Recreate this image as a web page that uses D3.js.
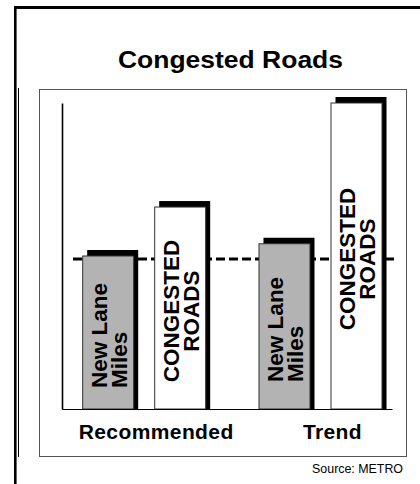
<!DOCTYPE html>
<html><head><meta charset="utf-8">
<script src="https://cdn.jsdelivr.net/npm/d3@7/dist/d3.min.js"></script>
<style>html,body{margin:0;padding:0;background:#fff;} svg{display:block;}</style>
</head><body>
<script>
// ---- data ----
const title = "Congested Roads";
const sourceNote = "Source: METRO";
const categories = ["Recommended", "Trend"];
const seriesNames = ["New Lane Miles", "Congested Roads"];
const newLaneMiles = [50, 54];
const congestedRoads = [66, 100];
const seriesLabels = [["New Lane", "Miles"], ["CONGESTED", "ROADS"]];
const referenceLevel = 49;

// ---- layout ----
const W = 420, H = 484;
const plot = {left: 62, right: 392, top: 103, bottom: 409};
const FONT = "'Liberation Sans', Arial, Helvetica, sans-serif";
const seriesFill = ["#b3b3b3", "#ffffff"];
const seriesAnchor = ["start", "middle"];

const svg = d3.select("body").append("svg").attr("width", W).attr("height", H);

// frame
svg.append("line").attr("x1", 14).attr("x2", W).attr("y1", 7.5).attr("y2", 7.5)
  .attr("stroke", "#000").attr("stroke-width", 3);
svg.append("line").attr("x1", 15.3).attr("x2", 15.3).attr("y1", 6).attr("y2", H)
  .attr("stroke", "#000").attr("stroke-width", 2.6);
svg.append("line").attr("x1", 18.5).attr("x2", 18.5).attr("y1", 88).attr("y2", 457)
  .attr("stroke", "#000").attr("stroke-width", 1);
svg.append("rect").attr("x", 39.5).attr("y", 89.5).attr("width", 367).attr("height", 367)
  .attr("fill", "none").attr("stroke", "#555").attr("stroke-width", 1);

// title
svg.append("text").attr("x", 230.5).attr("y", 68).attr("text-anchor", "middle")
  .attr("font-family", FONT).attr("font-weight", "bold").attr("font-size", 23)
  .attr("textLength", 225).attr("lengthAdjust", "spacingAndGlyphs")
  .text(title);

// scales
const x0 = d3.scaleBand().domain(categories).range([plot.left, plot.right])
  .paddingInner(0.3023).paddingOuter(0.087).align(0.674);
const x1 = d3.scaleBand().domain(seriesNames).range([0, x0.bandwidth()]).paddingInner(0.2917);
const y = d3.scaleLinear().domain([0, 100]).range([plot.bottom, plot.top]);

// axes
const yAxis = svg.append("g").attr("transform", `translate(${plot.left},0)`)
  .call(d3.axisLeft(y).tickValues([]).tickSizeOuter(0));
yAxis.select(".domain").attr("stroke", "#000").attr("stroke-width", 1.6);

// reference dashed line (behind bars)
svg.append("line").attr("x1", plot.left + 11).attr("x2", plot.right + 2)
  .attr("y1", y(referenceLevel)).attr("y2", y(referenceLevel))
  .attr("stroke", "#000").attr("stroke-width", 3).attr("stroke-dasharray", "9,4");

// bars
const rows = [];
categories.forEach((c, i) => {
  rows.push({cat: c, s: 0, v: newLaneMiles[i]});
  rows.push({cat: c, s: 1, v: congestedRoads[i]});
});
const bw = x1.bandwidth();
const bx = d => x0(d.cat) + x1(seriesNames[d.s]);

const bars = svg.append("g").selectAll("g").data(rows).join("g");
bars.append("rect").attr("x", d => bx(d) + 4.5).attr("y", d => y(d.v) - 6)
  .attr("width", bw).attr("height", d => y(0) - y(d.v) + 6).attr("fill", "#000");
bars.append("rect").attr("x", d => bx(d)).attr("y", d => y(d.v))
  .attr("width", bw).attr("height", d => y(0) - y(d.v))
  .attr("fill", d => seriesFill[d.s]).attr("stroke", "#333").attr("stroke-width", 1);

// bar labels (rotated)
bars.each(function(d) {
  const g = d3.select(this);
  const cx = bx(d) + bw / 2;
  const cy = (y(d.v) + y(0)) / 2 + 3;
  const lines = seriesLabels[d.s];
  const offs = [-1, 19];
  const texts = lines.map((t, i) => g.append("text")
    .attr("font-family", FONT).attr("font-weight", "bold").attr("font-size", 22.5)
    .attr("text-anchor", seriesAnchor[d.s]).text(t));
  const maxLen = d3.max(texts, t => t.node().getComputedTextLength());
  texts.forEach((t, i) => {
    const ty = seriesAnchor[d.s] === "start" ? cy + maxLen / 2 : cy;
    t.attr("transform", `translate(${cx + offs[i]},${ty}) rotate(-90)`);
  });
});

// baseline
const xAxis = svg.append("g").attr("transform", `translate(0,${plot.bottom})`)
  .call(d3.axisBottom(x0).tickSize(0).tickSizeOuter(0).tickFormat(""));
xAxis.select(".domain").attr("stroke", "#000").attr("stroke-width", 1.2);

// category labels
svg.append("g").selectAll("text").data(categories).join("text")
  .attr("x", d => x0(d) + x0.bandwidth() / 2 + 12).attr("y", 439)
  .attr("text-anchor", "middle").attr("font-family", FONT).attr("font-weight", "bold")
  .attr("font-size", 21).attr("letter-spacing", 0.4).text(d => d);

// source
svg.append("text").attr("x", 403).attr("y", 472.5).attr("text-anchor", "end")
  .attr("font-family", FONT).attr("font-size", 12.4).text(sourceNote);
</script>
</body></html>
